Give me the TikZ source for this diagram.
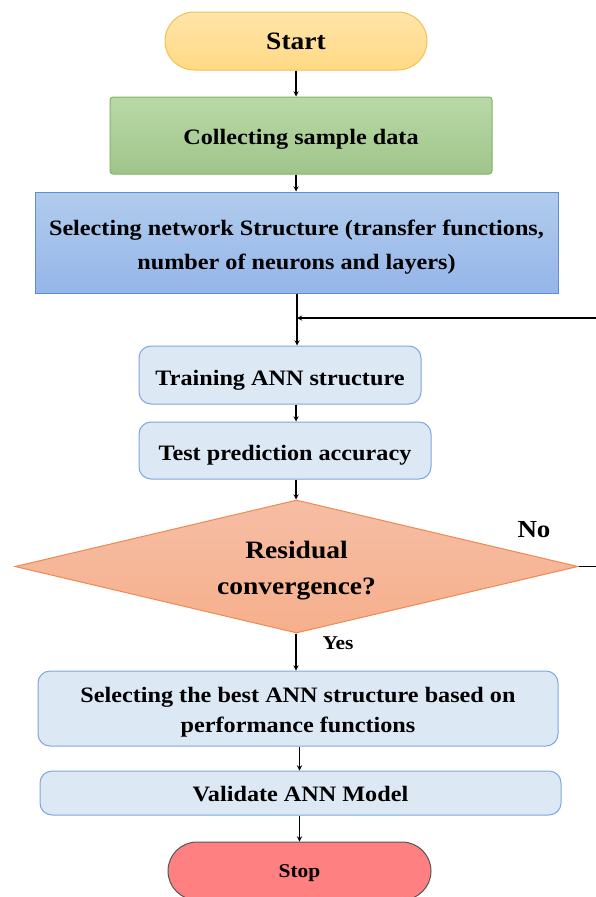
\documentclass[tikz,border=0pt]{standalone}
\usepackage{fontspec}
\setmainfont{Liberation Serif}[FakeStretch=1.1]
\usepackage{tikz}
\usetikzlibrary{shapes.geometric, shapes.misc, arrows, positioning}
\usepackage{xcolor}
\definecolor{startfill}{HTML}{FFD985}
\definecolor{startedge}{HTML}{F2C14E}
\definecolor{greenfill}{HTML}{A8CF91}
\definecolor{greenedge}{HTML}{82B366}
\definecolor{bluefill}{HTML}{9DBFE8}
\definecolor{blueedge}{HTML}{5F8DD3}
\definecolor{lightfill}{HTML}{DDE8F5}
\definecolor{lightedge}{HTML}{7EA6E0}
\definecolor{decfill}{HTML}{F5B294}
\definecolor{decedge}{HTML}{F0894F}
\definecolor{stopfill}{HTML}{FF8080}
\definecolor{stopedge}{HTML}{555555}
% text set a little lower in its box
\newcommand{\dropped}[2][3pt]{\raisebox{-#1}[\height][\depth]{\begin{tabular}{@{}c@{}}#2\end{tabular}}}

\begin{document}
\begin{tikzpicture}[
        x=1pt, y=-1pt,
        terminal/.style={rounded rectangle, line width=1pt, inner sep=0pt, minimum width=262pt, minimum height=58pt, align=center, font=\bfseries},
        block/.style={rectangle, line width=1pt, rounded corners=3pt, inner sep=0pt, align=center, font=\bfseries\fontsize{22}{34}\selectfont},
        softblock/.style={block, draw=lightedge, fill=lightfill, rounded corners=12pt},
        decision/.style={diamond, aspect=4.23, draw=decedge, line width=1pt, top color=decfill!85!white, bottom color=decfill!95!orange, inner sep=0pt, minimum width=563pt, minimum height=133pt, align=center, font=\bfseries\fontsize{25}{36}\selectfont},
        arrow/.style={line width=1.3pt,->,>=stealth},
        line/.style={line width=1.3pt}
    ]
        \path[use as bounding box, clip] (0,0) rectangle (596,897);

        \node [terminal, draw=startedge, top color=startfill!70!white, bottom color=startfill, font=\bfseries\fontsize{25}{30}\selectfont] (start) at (296,41) {Start};
        \node [block, draw=greenedge, top color=greenfill!80!white, bottom color=greenfill!95!black, minimum width=382pt, minimum height=77pt, font=\bfseries\fontsize{22}{30}\selectfont] (collect) at (301,135.5) {\dropped[2.5pt]{Collecting sample data}};
        \node [block, draw=blueedge, top color=bluefill!80!white, bottom color=bluefill!95!blue, rounded corners=0pt, minimum width=523pt, minimum height=101pt] (net) at (296.5,242.5) {\dropped[3.5pt]{Selecting network Structure (transfer functions,\\ number of neurons and layers)}};
        \node [softblock, minimum width=282pt, minimum height=58pt] (train) at (280,375) {\dropped[3.5pt]{Training ANN structure}};
        \node [softblock, minimum width=292pt, minimum height=57pt] (test) at (285,450.5) {\dropped[3.5pt]{Test prediction accuracy}};
        \node [decision] (dec) at (296.5,566.5) {\dropped[2.5pt]{Residual\\ convergence?}};
        \node [softblock, minimum width=520pt, minimum height=75pt, font=\bfseries\fontsize{22}{30}\selectfont] (best) at (298,708.5) {\dropped[2.5pt]{Selecting the best ANN structure based on\\ performance functions}};
        \node [softblock, minimum width=521pt, minimum height=44pt] (valid) at (300.5,793) {\dropped[2pt]{Validate ANN Model}};
        \node [terminal, draw=stopedge, fill=stopfill, minimum width=263pt, font=\bfseries\fontsize{19.5}{22}\selectfont] (stop) at (299.5,871) {\dropped[2pt]{Stop}};

        \node [font=\bfseries\fontsize{24.5}{28}\selectfont] (no) at (534,530) {No};
        \node [font=\bfseries\fontsize{19.5}{22}\selectfont] (yes) at (338,643) {Yes};

        % loop back from the decision
        \coordinate (backlow) at (596,566.5);
        \coordinate (backhigh) at (596,318);
        \coordinate (join) at (297,318);

        \draw [arrow] (start.south) -- (start.south |- collect.north);
        \draw [arrow] (collect.south -| start) -- (net.north -| start);
        \draw [arrow] (net.south -| join) -- (train.north -| join);
        \draw [arrow] (train.south -| start) -- (test.north -| start);
        \draw [arrow] (test.south -| start) -- (dec.north -| start);
        \draw [arrow] (dec.south -| start) -- (best.north -| start);
        \draw [arrow] (best.south -| stop) -- (valid.north -| stop);
        \draw [arrow] (valid.south -| stop) -- (stop.north);
        \draw [line] (dec.east) -- (backlow);
        \draw [arrow] (backhigh) -- (join);
    \end{tikzpicture}
\end{document}
